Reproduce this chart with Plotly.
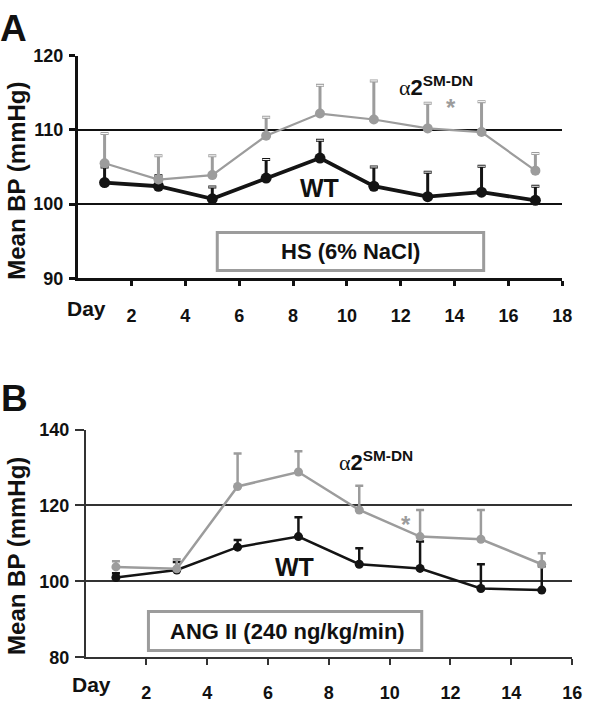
import plotly.graph_objects as go

W, H = 591, 710
FONT = "Liberation Sans, Arial, sans-serif"
GRAY = "#9c9c9c"
BLACK = "#141414"

# ---------------- data ----------------
days_A = [1, 3, 5, 7, 9, 11, 13, 15, 17]
wt_A = [102.9, 102.4, 100.7, 103.5, 106.2, 102.4, 101.0, 101.6, 100.5]
wt_A_err = [2.1, 1.4, 1.6, 2.5, 2.4, 2.6, 3.3, 3.5, 1.9]
a2_A = [105.5, 103.3, 103.9, 109.2, 112.2, 111.4, 110.2, 109.7, 104.5]
a2_A_err = [4.0, 3.2, 2.6, 2.5, 3.8, 5.2, 3.4, 4.1, 2.3]

days_B = [1, 3, 5, 7, 9, 11, 13, 15]
wt_B = [101.0, 103.0, 109.0, 111.8, 104.5, 103.4, 98.1, 97.7]
wt_B_err = [1.1, 2.1, 1.9, 5.1, 4.2, 7.1, 6.4, 6.3]
a2_B = [103.8, 103.3, 125.0, 128.8, 118.8, 111.8, 111.1, 104.5]
a2_B_err = [1.5, 2.5, 8.7, 5.5, 6.4, 7.0, 7.7, 2.9]

xticks_A = [2, 4, 6, 8, 10, 12, 14, 16, 18]
xlabels_A = ["2", "4", "6", "8", "10", "12", "14", "16", "18"]
yticks_A = [90, 100, 110, 120]
xticks_B = [2, 4, 6, 8, 10, 12, 14, 16]
xlabels_B = ["2", "4", "6", "8", "10", "12", "14", "16"]
yticks_B = [80, 100, 120, 140]


def px(x):
    return x / W


def py(y):
    return 1 - y / H


fig = go.Figure()


def series_A(days, vals, errs, color, lw, ms):
    fig.add_trace(go.Scatter(
        x=days, y=vals, mode="lines+markers", xaxis="x", yaxis="y",
        line=dict(color=color, width=lw), marker=dict(color=color, size=ms),
        error_y=dict(type="data", array=errs, arrayminus=[0] * len(vals),
                     color=color, thickness=3, width=4),
        showlegend=False, hoverinfo="skip"))
    # hollow look of the error-bar caps
    fig.add_trace(go.Scatter(
        x=days, y=[v + e for v, e in zip(vals, errs)], mode="markers",
        xaxis="x", yaxis="y",
        marker=dict(symbol="line-ew", size=5, line=dict(color="white", width=1)),
        showlegend=False, hoverinfo="skip"))


# Panel A
series_A(days_A, wt_A, wt_A_err, BLACK, 3.8, 11)
series_A(days_A, a2_A, a2_A_err, GRAY, 2.2, 10)

# Panel B
fig.add_trace(go.Scatter(
    x=days_B, y=wt_B, mode="lines+markers", xaxis="x2", yaxis="y2",
    line=dict(color=BLACK, width=2.5), marker=dict(color=BLACK, size=9),
    error_y=dict(type="data", array=wt_B_err, arrayminus=[0] * len(wt_B),
                 color=BLACK, thickness=2.5, width=4),
    showlegend=False, hoverinfo="skip"))
fig.add_trace(go.Scatter(
    x=days_B, y=a2_B, mode="lines+markers", xaxis="x2", yaxis="y2",
    line=dict(color=GRAY, width=2.5), marker=dict(color=GRAY, size=9),
    error_y=dict(type="data", array=a2_B_err, arrayminus=[0] * len(a2_B),
                 color=GRAY, thickness=2.5, width=4),
    showlegend=False, hoverinfo="skip"))

tickfont_A = dict(family=FONT, size=18, color="#111", weight="bold")
tickfont_B = dict(family=FONT, size=18, color="#111", weight="bold")

fig.update_layout(
    width=W, height=H, margin=dict(l=0, r=0, t=0, b=0),
    paper_bgcolor="white", plot_bgcolor="white",
    xaxis=dict(domain=[px(79), px(572)], range=[0, 18], anchor="y",
               tickvals=xticks_A, ticktext=xlabels_A, tickfont=tickfont_A,
               showline=True, linecolor="#111", linewidth=3,
               ticks="outside", ticklen=5, tickwidth=2.5, tickcolor="#111",
               showgrid=False, zeroline=False, ticklabelstandoff=14),
    yaxis=dict(domain=[py(276), py(47)], range=[90, 120], anchor="x",
               tickvals=yticks_A, tickfont=tickfont_A,
               showline=True, linecolor="#111", linewidth=2.5,
               ticks="outside", ticklen=6, tickwidth=2.5, tickcolor="#111",
               showgrid=True, gridcolor="#111", gridwidth=2, zeroline=False,
               ticklabelstandoff=2),
    xaxis2=dict(domain=[px(87), px(582)], range=[0, 16], anchor="y2",
                tickvals=xticks_B, ticktext=xlabels_B, tickfont=tickfont_B,
                showline=True, linecolor="#333", linewidth=1.5,
                ticks="outside", ticklen=6, tickwidth=1.5, tickcolor="#333",
                showgrid=False, zeroline=False, ticklabelstandoff=12),
    yaxis2=dict(domain=[py(666), py(431.7)], range=[80, 140], anchor="x2",
                tickvals=yticks_B, tickfont=tickfont_B,
                showline=True, linecolor="#333", linewidth=1.5,
                ticks="outside", ticklen=9, tickwidth=1.5, tickcolor="#333",
                showgrid=True, gridcolor="#333", gridwidth=1.5, zeroline=False,
                ticklabelstandoff=2),
)

shapes = [
    dict(type="rect", xref="paper", yref="paper",
         x0=px(221), x1=px(492), y0=py(268), y1=py(229),
         line=dict(color=GRAY, width=3), fillcolor="white", layer="above"),
    dict(type="rect", xref="paper", yref="paper",
         x0=px(151), x1=px(429), y0=py(659), y1=py(619),
         line=dict(color=GRAY, width=3), fillcolor="white", layer="above"),
]
fig.update_layout(shapes=shapes)


def ann(text, x, y, size, color="#111", weight="bold", angle=0, family=FONT):
    fig.add_annotation(text=text, x=px(x), y=py(y), xref="paper", yref="paper",
                       showarrow=False, xanchor="center", yanchor="middle",
                       textangle=angle,
                       font=dict(family=family, size=size, color=color, weight=weight))


alpha_txt = ("<span style='font-family:Liberation Serif;font-weight:normal'>α</span>"
             "2<sup>SM-DN</sup>")

ann("A", 14, 19, 37)
ann("B", 15, 400, 37)
ann("Mean BP (mmHg)", 16, 176, 24, angle=-90)
ann("Mean BP (mmHg)", 16, 562, 24, angle=-90)
ann("Day", 88, 307, 21)
ann("Day", 93, 694, 21)
ann("HS (6% NaCl)", 357, 249, 22)
ann("ANG II (240 ng/kg/min)", 292, 640, 22)
ann("WT", 325, 183, 25)
ann("WT", 300, 573, 25)
ann(alpha_txt, 444, 78, 22)
ann(alpha_txt, 382, 464, 22)
ann("*", 459, 100, 24, color=GRAY)
ann("*", 413, 529, 24, color=GRAY)

fig.write_html("out.html", config=dict(displayModeBar=False),
               post_script="document.body.style.margin='0';document.body.style.padding='0';")
